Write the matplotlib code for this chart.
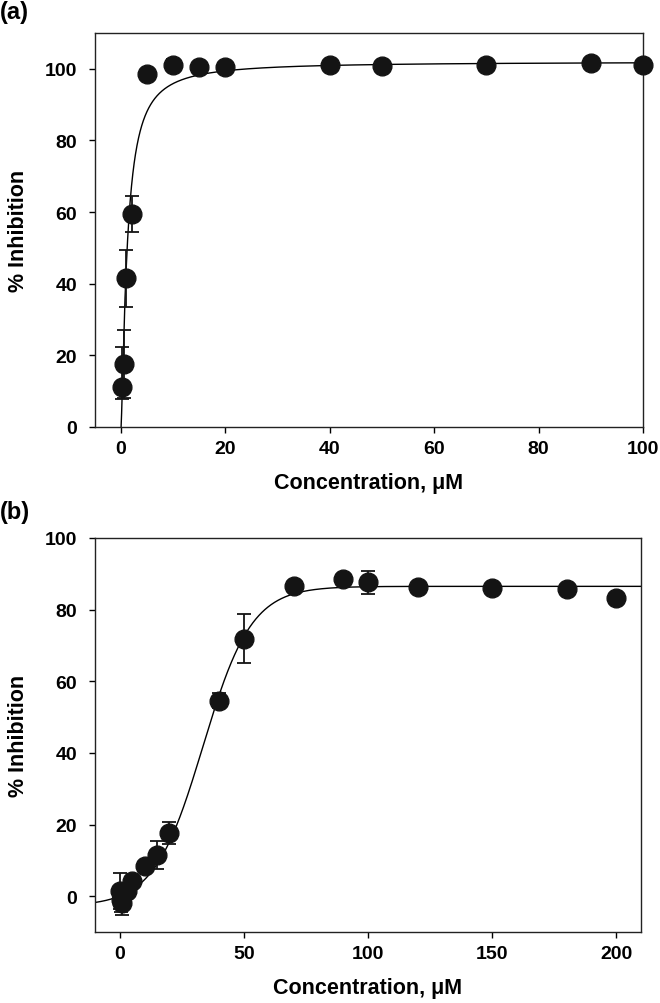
import numpy as np
import matplotlib
matplotlib.use("Agg")
import matplotlib.pyplot as plt

plt.rcParams['font.family'] = ['Liberation Sans', 'DejaVu Sans']
plt.rcParams['font.weight'] = 'bold'

# ---- Panel (a) data ----
conc_a = [0.1, 0.5, 1, 2, 5, 10, 15, 20, 40, 50, 70, 90, 100]
inhib_a = [11.3, 17.6, 41.5, 59.5, 98.5, 101.2, 100.5, 100.5, 101.0, 100.8, 101.0, 101.5, 101.0]
err_a_low = [3.5, 9.5, 7.9, 5.0, 0.8, 1.5, 1.0, 0.8, 0.8, 0.8, 0.8, 0.8, 0.8]
err_a_high = [11.1, 9.5, 7.9, 5.0, 0.8, 1.5, 1.0, 0.8, 0.8, 0.8, 0.8, 0.8, 0.8]
# fitted Hill curve parameters (a)
fit_a_max, fit_a_k, fit_a_n = 102.0, 1.2, 1.3

# ---- Panel (b) data ----
conc_b = [0, 0.5, 1, 3, 5, 10, 15, 20, 40, 50, 70, 90, 100, 120, 150, 180, 200]
inhib_b = [1.5, -1.0, -1.8, 1.5, 4.3, 8.4, 11.5, 17.7, 54.6, 71.9, 86.5, 88.6, 87.6, 86.2, 86.1, 85.8, 83.3]
err_b = [5.0, 3.5, 3.5, 1.0, 1.0, 1.0, 4.0, 3.0, 2.0, 6.8, 1.0, 1.0, 3.2, 1.0, 1.0, 1.0, 1.0]
# fitted 4-parameter sigmoid (b)
fit_b_y0, fit_b_a, fit_b_x0, fit_b_b = -2.8, 89.3, 33.5, 9.8

fig = plt.figure(figsize=(6.6, 10.04), dpi=100)
ax1 = fig.add_axes([95/660, 1-428/1004, (643-95)/660, (428-34)/1004])
ax2 = fig.add_axes([95/660, 1-933/1004, (641-95)/660, (933-539)/1004])

tick_fs = 14
lab_fs = 15.5

def style(ax):
    for s in ax.spines.values():
        s.set_linewidth(1.0)
        s.set_color('#222222')
    ax.tick_params(direction='out', length=4.5, width=1.0, labelsize=tick_fs)
    ax.tick_params(axis='x', pad=5)
    ax.tick_params(axis='y', pad=8.5)
    for lbl in ax.get_xticklabels() + ax.get_yticklabels():
        lbl.set_fontweight('bold')

# Panel a
xa = np.linspace(0, 100, 2000)
ya = fit_a_max * xa**fit_a_n / (fit_a_k**fit_a_n + xa**fit_a_n)
ax1.plot(xa, ya, color='black', lw=1.0, zorder=2)
ax1.errorbar(conc_a, inhib_a, yerr=[err_a_low, err_a_high], fmt='o', color='#141414',
             markersize=13.5, ecolor='#141414', elinewidth=1.3, capsize=5, capthick=1.3,
             zorder=3, clip_on=False)
ax1.set_xlim(-5, 100)
ax1.set_ylim(0, 110)
ax1.set_xticks([0, 20, 40, 60, 80, 100])
ax1.set_yticks([0, 20, 40, 60, 80, 100])
style(ax1)
ax1.set_xlabel('Concentration, μM', fontsize=lab_fs, fontweight='bold', labelpad=11)
ax1.set_ylabel('% Inhibition', fontsize=lab_fs, fontweight='bold', labelpad=11)

# Panel b
xb = np.linspace(-10, 210, 2000)
yb = fit_b_y0 + fit_b_a / (1 + np.exp(-(xb - fit_b_x0) / fit_b_b))
ax2.plot(xb, yb, color='black', lw=1.0, zorder=2)
ax2.errorbar(conc_b, inhib_b, yerr=err_b, fmt='o', color='#141414',
             markersize=13.5, ecolor='#141414', elinewidth=1.3, capsize=5, capthick=1.3,
             zorder=3, clip_on=False)
ax2.set_xlim(-10, 210)
ax2.set_ylim(-10, 100)
ax2.set_xticks([0, 50, 100, 150, 200])
ax2.set_yticks([0, 20, 40, 60, 80, 100])
style(ax2)
ax2.set_xlabel('Concentration, μM', fontsize=lab_fs, fontweight='bold', labelpad=11)
ax2.set_ylabel('% Inhibition', fontsize=lab_fs, fontweight='bold', labelpad=11)

fig.text(0/660, 1-13/1004, '(a)', fontsize=17, fontweight='bold', va='center', ha='left')
fig.text(0/660, 1-512/1004, '(b)', fontsize=17, fontweight='bold', va='center', ha='left')

fig.savefig('out.png', dpi=100)
